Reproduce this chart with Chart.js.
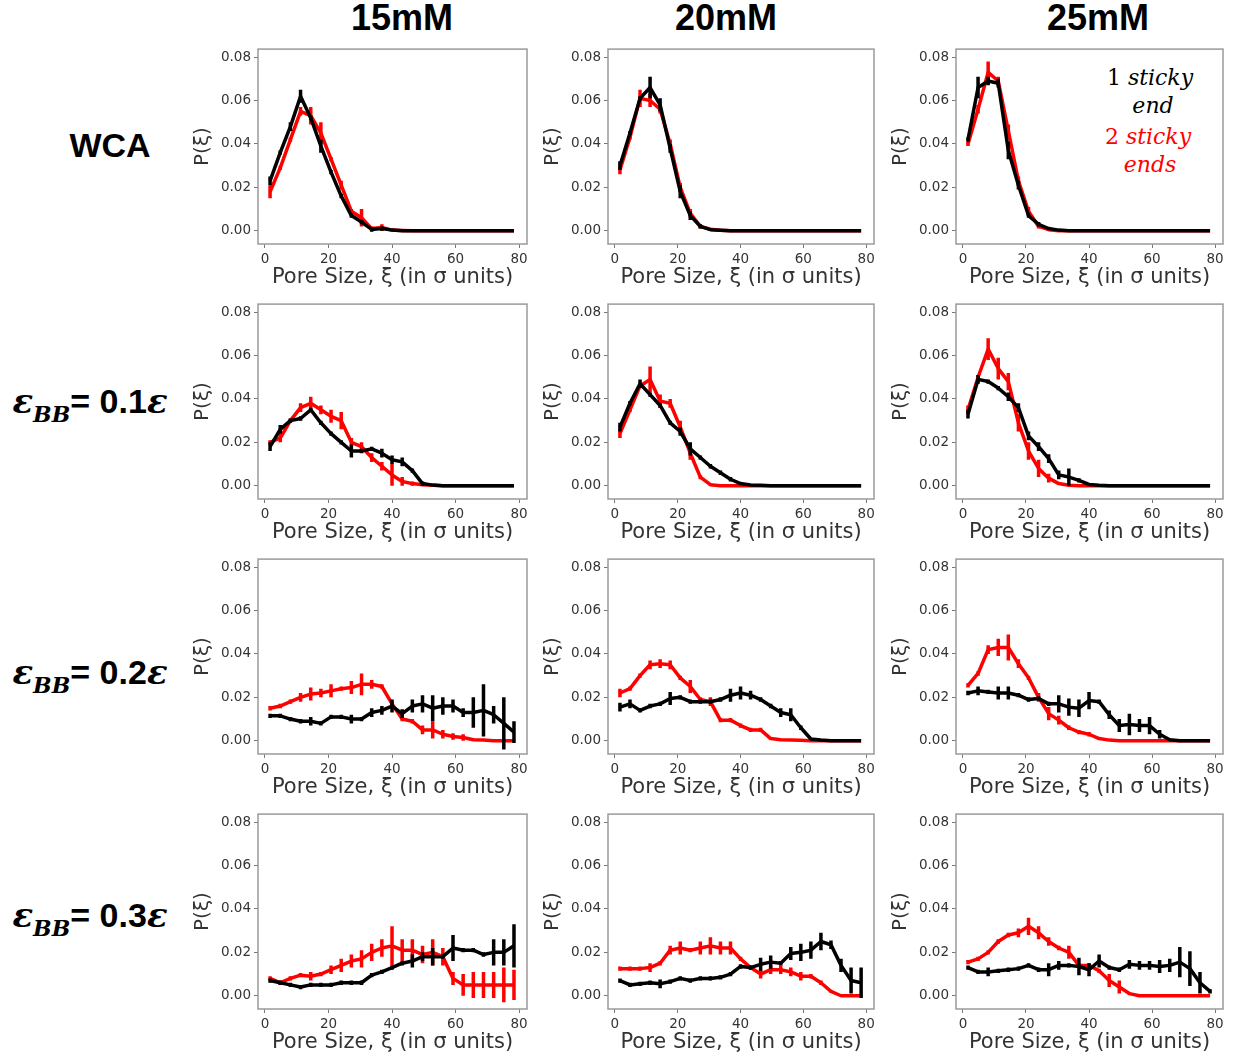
<!DOCTYPE html>
<html><head><meta charset="utf-8">
<script src="https://cdn.jsdelivr.net/npm/chart.js@4.4.0/dist/chart.umd.min.js"></script>
<style>
body{margin:0;background:#fff;width:1234px;height:1059px;position:relative;overflow:hidden;font-family:"DejaVu Sans";}
canvas{position:absolute;}
.lab{position:absolute;transform:translate(-50%,-50%);white-space:nowrap;color:#000;}
.hdr{font-family:"Liberation Sans";font-weight:bold;font-size:36px;}
.row{font-weight:bold;font-size:34px;font-family:"Liberation Sans";}
.eps{font-family:"DejaVu Serif";font-style:italic;font-weight:bold;}
.sub{font-family:"DejaVu Serif";font-style:italic;font-weight:bold;font-size:22px;position:relative;top:9px;}
.leg{font-family:"DejaVu Serif";font-size:22px;}
.leg i{font-style:italic;}
</style></head><body>
<div class="lab hdr" style="left:402px;top:18px">15mM</div>
<div class="lab hdr" style="left:726px;top:18px">20mM</div>
<div class="lab hdr" style="left:1098px;top:18px">25mM</div>
<div class="lab row" style="left:110px;top:145px">WCA</div>
<div class="lab row" style="left:90px;top:401px"><span class="eps">ε</span><span class="sub">BB</span>= 0.1<span class="eps">ε</span></div>
<div class="lab row" style="left:90px;top:672px"><span class="eps">ε</span><span class="sub">BB</span>= 0.2<span class="eps">ε</span></div>
<div class="lab row" style="left:90px;top:915px"><span class="eps">ε</span><span class="sub">BB</span>= 0.3<span class="eps">ε</span></div>
<div class="lab leg" style="left:1150px;top:77px;color:#000">1 <i>sticky</i></div>
<div class="lab leg" style="left:1153px;top:105px;color:#000"><i>end</i></div>
<div class="lab leg" style="left:1148px;top:136px;color:#f00">2 <i>sticky</i></div>
<div class="lab leg" style="left:1150px;top:164px;color:#f00"><i>ends</i></div>
<script>
const xs=[1.6,4.8,8.0,11.2,14.4,17.6,20.8,24.0,27.2,30.4,33.6,36.8,40.0,43.2,46.4,49.6,52.8,56.0,59.2,62.4,65.6,68.8,72.0,75.2,78.4];
const xTickValues=[0,20,40,60,80];
const xTickLabels=['0','20','40','60','80'];
const yTickValues=[0,0.02,0.04,0.06,0.08];
const yTickLabels=['0.00','0.02','0.04','0.06','0.08'];
const columnTitles=['15mM','20mM','25mM'];

// WCA
const wca15Black=[0.023,0.036,0.048,0.062,0.052,0.039,0.027,0.016,0.007,0.004,0.0006,0.001,0.0003,0,0,0,0,0,0,0,0,0,0,0,0];
const wca15BlackErr=[0.002,0.001,0.002,0.003,0.001,0.003,0.001,0.001,0.001,0.001,0.001,0.001,0,0,0,0,0,0,0,0,0,0,0,0,0];
const wca15Red=[0.018,0.029,0.042,0.055,0.053,0.045,0.033,0.021,0.009,0.006,0.001,0.0015,0.0003,0.0001,0,0,0,0,0,0,0,0,0,0,0];
const wca15RedErr=[0.003,0.001,0.001,0.002,0.004,0.005,0.001,0.002,0.001,0.004,0.001,0.0015,0.0005,0,0,0,0,0,0,0,0,0,0,0,0];
const wca20Black=[0.030,0.045,0.061,0.066,0.058,0.038,0.018,0.007,0.002,0.0005,0.0002,0,0,0,0,0,0,0,0,0,0,0,0,0,0];
const wca20BlackErr=[0.002,0.001,0.001,0.005,0.003,0.002,0.003,0.002,0.001,0.0005,0,0,0,0,0,0,0,0,0,0,0,0,0,0,0];
const wca20Red=[0.028,0.043,0.061,0.060,0.056,0.040,0.020,0.008,0.002,0.0007,0.0002,0,0,0,0,0,0,0,0,0,0,0,0,0,0];
const wca20RedErr=[0.002,0.001,0.004,0.003,0.002,0.002,0.002,0.002,0.001,0.0005,0,0,0,0,0,0,0,0,0,0,0,0,0,0,0];
const wca25Black=[0.042,0.066,0.069,0.068,0.037,0.021,0.007,0.003,0.001,0.0003,0,0,0,0,0,0,0,0,0,0,0,0,0,0,0];
const wca25BlackErr=[0.001,0.005,0.002,0.002,0.004,0.002,0.001,0.001,0.0005,0,0,0,0,0,0,0,0,0,0,0,0,0,0,0,0];
const wca25Red=[0.040,0.056,0.073,0.069,0.046,0.023,0.009,0.002,0.0005,0,0,0,0,0,0,0,0,0,0,0,0,0,0,0,0];
const wca25RedErr=[0.001,0.002,0.005,0.002,0.003,0.002,0.002,0.001,0.0005,0,0,0,0,0,0,0,0,0,0,0,0,0,0,0,0];

// eps_BB = 0.1
const eps01_15Black=[0.018,0.026,0.030,0.031,0.035,0.029,0.024,0.020,0.016,0.016,0.017,0.015,0.012,0.011,0.007,0.001,0.0003,0,0,0,0,0,0,0,0];
const eps01_15BlackErr=[0.002,0.002,0.001,0.001,0.001,0.001,0.001,0.001,0.003,0.001,0.001,0.002,0.002,0.002,0.001,0.001,0.0003,0,0,0,0,0,0,0,0];
const eps01_15Red=[0.020,0.022,0.030,0.036,0.038,0.035,0.032,0.030,0.020,0.018,0.013,0.009,0.005,0.002,0.001,0.0005,0.0002,0,0,0,0,0,0,0,0];
const eps01_15RedErr=[0.001,0.002,0.001,0.002,0.003,0.002,0.003,0.004,0.002,0.002,0.002,0.002,0.005,0.002,0.001,0.0005,0,0,0,0,0,0,0,0,0];
const eps01_20Black=[0.027,0.038,0.047,0.042,0.037,0.029,0.025,0.017,0.013,0.009,0.006,0.003,0.001,0.0004,0.0002,0,0,0,0,0,0,0,0,0,0];
const eps01_20BlackErr=[0.002,0.001,0.002,0.001,0.001,0.001,0.002,0.003,0.001,0.001,0.001,0.001,0.0005,0,0,0,0,0,0,0,0,0,0,0,0];
const eps01_20Red=[0.024,0.035,0.046,0.049,0.039,0.038,0.027,0.015,0.004,0.0005,0,0,0,0,0,0,0,0,0,0,0,0,0,0,0];
const eps01_20RedErr=[0.002,0.001,0.001,0.006,0.003,0.002,0.003,0.003,0.001,0.0005,0,0,0,0,0,0,0,0,0,0,0,0,0,0,0];
const eps01_25Black=[0.033,0.049,0.048,0.045,0.041,0.036,0.023,0.018,0.0125,0.005,0.004,0.0025,0.0006,0.0002,0,0,0,0,0,0,0,0,0,0,0];
const eps01_25BlackErr=[0.002,0.002,0.001,0.001,0.002,0.002,0.002,0.002,0.002,0.002,0.004,0.001,0.0005,0,0,0,0,0,0,0,0,0,0,0,0];
const eps01_25Red=[0.035,0.050,0.063,0.054,0.048,0.029,0.016,0.008,0.0035,0.001,0.0002,0,0,0,0,0,0,0,0,0,0,0,0,0,0];
const eps01_25RedErr=[0.002,0.001,0.005,0.005,0.004,0.004,0.004,0.004,0.002,0.0005,0,0,0,0,0,0,0,0,0,0,0,0,0,0,0];

// eps_BB = 0.2
const eps02_15Black=[0.0115,0.0115,0.010,0.009,0.009,0.008,0.011,0.011,0.010,0.010,0.013,0.014,0.016,0.0125,0.016,0.017,0.015,0.016,0.016,0.013,0.013,0.014,0.012,0.008,0.004];
const eps02_15BlackErr=[0.001,0.001,0.001,0.001,0.002,0.001,0.001,0.001,0.002,0.001,0.002,0.002,0.003,0.002,0.003,0.004,0.006,0.004,0.003,0.002,0.007,0.012,0.004,0.012,0.005];
const eps02_15Red=[0.015,0.016,0.018,0.020,0.0215,0.022,0.023,0.024,0.0245,0.026,0.026,0.025,0.017,0.010,0.009,0.005,0.005,0.003,0.002,0.0015,0.0005,0.0003,0,0,0];
const eps02_15RedErr=[0.001,0.001,0.001,0.002,0.003,0.002,0.003,0.001,0.003,0.005,0.002,0.001,0.001,0.001,0.001,0.002,0.004,0.002,0.0015,0.0015,0.0005,0,0,0,0];
const eps02_20Black=[0.0155,0.017,0.014,0.016,0.017,0.0195,0.020,0.018,0.018,0.018,0.019,0.021,0.022,0.021,0.019,0.016,0.013,0.012,0.006,0.0008,0.0003,0,0,0,0];
const eps02_20BlackErr=[0.002,0.002,0.001,0.001,0.001,0.003,0.001,0.001,0.001,0.001,0.001,0.003,0.003,0.002,0.001,0.001,0.002,0.003,0.001,0.0005,0,0,0,0,0];
const eps02_20Red=[0.022,0.024,0.030,0.035,0.0355,0.035,0.029,0.025,0.019,0.018,0.0095,0.0095,0.007,0.005,0.005,0.001,0.0005,0.0003,0.0002,0,0,0,0,0,0];
const eps02_20RedErr=[0.002,0.001,0.001,0.002,0.002,0.002,0.001,0.003,0.001,0.002,0.001,0.001,0.001,0.001,0.001,0.0005,0,0,0,0,0,0,0,0,0];
const eps02_25Black=[0.022,0.023,0.0225,0.022,0.022,0.021,0.019,0.0195,0.017,0.017,0.0155,0.015,0.0185,0.018,0.012,0.007,0.0075,0.007,0.007,0.003,0.0005,0,0,0,0];
const eps02_25BlackErr=[0.001,0.002,0.001,0.003,0.003,0.001,0.001,0.001,0.001,0.004,0.004,0.004,0.004,0.001,0.002,0.003,0.005,0.003,0.004,0.002,0.0005,0,0,0,0];
const eps02_25Red=[0.0255,0.031,0.042,0.043,0.043,0.0355,0.029,0.020,0.0125,0.0095,0.006,0.004,0.003,0.001,0.0003,0,0,0,0,0,0,0,0,0,0];
const eps02_25RedErr=[0.001,0.001,0.002,0.004,0.006,0.002,0.001,0.002,0.003,0.002,0.001,0.001,0.001,0.0005,0,0,0,0,0,0,0,0,0,0,0];

// eps_BB = 0.3
const eps03_15Black=[0.007,0.006,0.005,0.004,0.005,0.005,0.005,0.006,0.006,0.006,0.0095,0.011,0.013,0.015,0.016,0.018,0.018,0.018,0.022,0.021,0.021,0.019,0.020,0.020,0.023];
const eps03_15BlackErr=[0.001,0.001,0.001,0.001,0.001,0.001,0.001,0.001,0.001,0.001,0.001,0.001,0.001,0.001,0.003,0.002,0.004,0.001,0.006,0.001,0.001,0.001,0.006,0.006,0.010];
const eps03_15Red=[0.008,0.006,0.008,0.0095,0.009,0.010,0.012,0.014,0.016,0.017,0.020,0.022,0.023,0.021,0.021,0.019,0.020,0.018,0.008,0.005,0.005,0.005,0.005,0.005,0.005];
const eps03_15RedErr=[0.001,0.001,0.001,0.001,0.002,0.001,0.002,0.003,0.003,0.004,0.004,0.004,0.009,0.005,0.005,0.004,0.006,0.004,0.003,0.005,0.006,0.006,0.006,0.008,0.007];
const eps03_20Black=[0.007,0.005,0.0055,0.006,0.0055,0.0065,0.008,0.007,0.008,0.008,0.0085,0.010,0.0135,0.013,0.0145,0.0155,0.015,0.0195,0.020,0.021,0.025,0.0235,0.014,0.007,0.006];
const eps03_20BlackErr=[0.001,0.001,0.001,0.001,0.002,0.001,0.001,0.001,0.001,0.001,0.001,0.001,0.001,0.001,0.003,0.003,0.001,0.003,0.004,0.004,0.004,0.002,0.003,0.006,0.007];
const eps03_20Red=[0.0125,0.0125,0.0125,0.013,0.015,0.021,0.022,0.021,0.022,0.023,0.022,0.022,0.017,0.013,0.010,0.012,0.012,0.011,0.009,0.009,0.006,0.002,0,0,0];
const eps03_20RedErr=[0.001,0.001,0.001,0.002,0.001,0.002,0.003,0.001,0.003,0.004,0.003,0.003,0.001,0.001,0.002,0.002,0.002,0.002,0.002,0.001,0.001,0.0005,0,0,0];
const eps03_25Black=[0.013,0.011,0.011,0.0115,0.012,0.0125,0.014,0.012,0.012,0.014,0.014,0.0135,0.012,0.016,0.013,0.012,0.0145,0.014,0.014,0.0135,0.014,0.0155,0.0125,0.006,0.002];
const eps03_25BlackErr=[0.001,0.001,0.002,0.001,0.001,0.001,0.001,0.001,0.003,0.002,0.001,0.004,0.003,0.003,0.001,0.001,0.002,0.002,0.002,0.003,0.003,0.007,0.008,0.005,0.001];
const eps03_25Red=[0.0155,0.017,0.020,0.025,0.028,0.029,0.032,0.029,0.025,0.022,0.020,0.014,0.014,0.0115,0.007,0.004,0.001,0,0,0,0,0,0,0,0];
const eps03_25RedErr=[0.001,0.001,0.001,0.001,0.001,0.002,0.004,0.003,0.002,0.001,0.003,0.001,0.001,0.001,0.003,0.003,0.0005,0,0,0,0,0,0,0,0];

const panelRows=[
 [[wca15Black,wca15BlackErr,wca15Red,wca15RedErr],[wca20Black,wca20BlackErr,wca20Red,wca20RedErr],[wca25Black,wca25BlackErr,wca25Red,wca25RedErr]],
 [[eps01_15Black,eps01_15BlackErr,eps01_15Red,eps01_15RedErr],[eps01_20Black,eps01_20BlackErr,eps01_20Red,eps01_20RedErr],[eps01_25Black,eps01_25BlackErr,eps01_25Red,eps01_25RedErr]],
 [[eps02_15Black,eps02_15BlackErr,eps02_15Red,eps02_15RedErr],[eps02_20Black,eps02_20BlackErr,eps02_20Red,eps02_20RedErr],[eps02_25Black,eps02_25BlackErr,eps02_25Red,eps02_25RedErr]],
 [[eps03_15Black,eps03_15BlackErr,eps03_15Red,eps03_15RedErr],[eps03_20Black,eps03_20BlackErr,eps03_20Red,eps03_20RedErr],[eps03_25Black,eps03_25BlackErr,eps03_25Red,eps03_25RedErr]]
];

// layout (pixels)
const colLeft=[258,608,956], colWidth=[269,266,267], rowTop=[48,303,558,813], boxH=196;
const padL=68, padT=10, padR=10, padB=48;

const errPlugin={id:'errbars',afterDatasetDraw(chart,args){
  const ds=chart.data.datasets[args.index]; if(!ds.errors) return;
  const ys=chart.scales.y, ctx=chart.ctx;
  ctx.save(); ctx.strokeStyle=ds.borderColor; ctx.lineWidth=3.5; ctx.lineCap='butt'; ctx.beginPath();
  args.meta.data.forEach((pt,i)=>{const e=ds.errors[i]; if(!e) return; const v=ds.data[i].y;
    ctx.moveTo(pt.x,ys.getPixelForValue(v-e)); ctx.lineTo(pt.x,ys.getPixelForValue(v+e));});
  ctx.stroke(); ctx.restore();
}};
const framePlugin={id:'frame',afterDraw(chart){
  const a=chart.chartArea, ctx=chart.ctx; ctx.save(); ctx.strokeStyle='#9a9a9a'; ctx.lineWidth=1.5;
  ctx.strokeRect(a.left,a.top,a.right-a.left,a.bottom-a.top); ctx.restore();
}};

const tickFont={family:'DejaVu Sans',size:13.5};
panelRows.forEach((row,r)=>row.forEach((p,c)=>{
  const cv=document.createElement('canvas');
  const w=padL+colWidth[c]+padR, h=padT+boxH+padB;
  cv.width=w; cv.height=h; cv.style.left=(colLeft[c]-padL)+'px'; cv.style.top=(rowTop[r]-padT)+'px';
  cv.style.width=w+'px'; cv.style.height=h+'px';
  document.body.appendChild(cv);
  const mk=(vals)=>xs.map((x,i)=>({x:x,y:vals[i]}));
  new Chart(cv,{type:'line',
    data:{datasets:[
      {data:mk(p[0]),errors:p[1],borderColor:'#000000',borderWidth:3.5,pointRadius:0,tension:0,fill:false,borderJoinStyle:'round'},
      {data:mk(p[2]),errors:p[3],borderColor:'#ff0000',borderWidth:3.5,pointRadius:0,tension:0,fill:false,borderJoinStyle:'round'}
    ]},
    options:{responsive:false,animation:false,devicePixelRatio:1,
      layout:{padding:{left:0,top:padT,right:padR,bottom:0}},
      plugins:{legend:{display:false},tooltip:{enabled:false}},
      scales:{
        x:{type:'linear',min:-2.2,max:82.5,
          afterBuildTicks:s=>{s.ticks=xTickValues.map(v=>({value:v}));},
          afterFit:s=>{s.height=padB;},
          grid:{display:true,drawOnChartArea:false,drawTicks:true,tickLength:4,color:'#777'},
          border:{display:false},
          ticks:{font:tickFont,color:'#333',padding:3,maxRotation:0,autoSkip:false,callback:(v,i)=>xTickLabels[i]},
          title:{display:true,text:'Pore Size, ξ (in σ units)',font:{family:'DejaVu Sans',size:21},color:'#333',padding:{top:0,bottom:1.5}}},
        y:{type:'linear',min:-0.0061,max:0.0837,
          afterBuildTicks:s=>{s.ticks=yTickValues.map(v=>({value:v}));},
          afterFit:s=>{s.width=padL;},
          grid:{display:true,drawOnChartArea:false,drawTicks:true,tickLength:4,color:'#777'},
          border:{display:false},
          ticks:{font:tickFont,color:'#333',padding:3,callback:(v,i)=>yTickLabels[i]},
          title:{display:true,text:'P(ξ)',font:{family:'DejaVu Sans',size:20},color:'#333',padding:{top:1,bottom:0}}}
      }},
    plugins:[errPlugin,framePlugin]});
}));
</script>
</body></html>
